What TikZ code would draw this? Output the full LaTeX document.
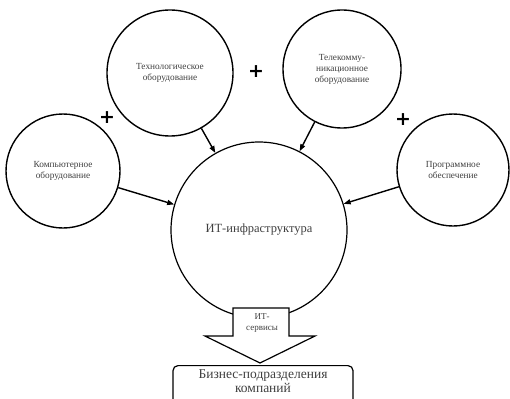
\documentclass[tikz,border=0pt]{standalone}
\usepackage{fontspec}
\setmainfont{Liberation Serif}
\newfontfamily\plusfont{DejaVu Sans}
\usetikzlibrary{arrows.meta}
\begin{document}
\begin{tikzpicture}[x=1pt,y=-1pt,
  txt/.style={text=black!75},
  small/.style={circle,draw,line width=1.4pt,txt,font=\fontsize{9.3}{11}\selectfont,align=center,inner sep=0pt},
  big/.style={circle,draw,line width=1.2pt,txt,font=\fontsize{12.5}{14}\selectfont,align=center,inner sep=0pt},
  arr/.style={-{Triangle[length=7pt,width=5pt]},line width=1.4pt},
  plus/.style={font=\plusfont\bfseries\fontsize{19}{19}\selectfont,inner sep=0pt}]
\clip (0,0) rectangle (510,398);
\fill[white] (0,0) rectangle (510,398);
\node[big,minimum size=176pt] (main) at (259,230) {ИТ-инфраструктура};
\node[small,minimum size=126pt] (tech) at (170,73) {Технологическое\\оборудование};
\node[small,minimum size=118pt] (tele) at (342,69) {Телекомму-\\никационное\\оборудование};
\node[small,minimum size=114pt] (comp) at (63,171) {Компьютерное\\оборудование};
\node[small,minimum size=112pt] (soft) at (453,170) {Программное\\обеспечение};
\draw[arr] (tech) -- (main);
\draw[arr] (tele) -- (main);
\draw[arr] (comp) -- (main);
\draw[arr] (soft) -- (main);
\node[plus] (p1) at (107,118) {+};
\node[plus] (p2) at (256,72) {+};
\node[plus] (p3) at (403,120) {+};
\draw[line width=1.2pt,fill=white,line join=miter] (233,308) -- (289,308) -- (289,336) -- (315,336) -- (260,363) -- (205,336) -- (233,336) -- cycle;
\node[txt,font=\fontsize{9}{11}\selectfont,align=center] (svc) at (262,323) {ИТ-\\сервисы};
\node[draw,line width=1.2pt,rounded corners=5pt,minimum width=180pt,minimum height=52pt,anchor=north] (biz) at (263,365) {};
\node[txt,font=\fontsize{13.5}{14.5}\selectfont,align=center] (biztxt) at (263,381) {Бизнес-подразделения\\компаний};
\end{tikzpicture}
\end{document}
